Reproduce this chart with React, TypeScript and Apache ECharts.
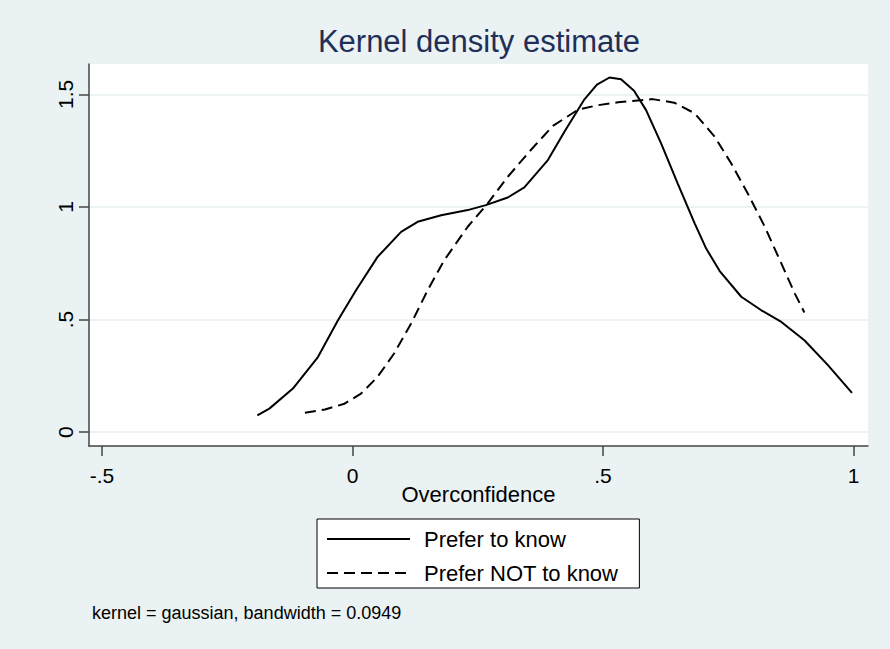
import React, { useEffect, useRef } from "react";
import * as echarts from "echarts";

const seriesNames = ["Prefer to know", "Prefer NOT to know"];

const preferToKnow: [number, number][] = [
  [-0.19, 0.074], [-0.166, 0.104], [-0.119, 0.193], [-0.069, 0.333],
  [-0.029, 0.497], [0.007, 0.63], [0.05, 0.778], [0.097, 0.889],
  [0.13, 0.934], [0.177, 0.963], [0.23, 0.986], [0.266, 1.008],
  [0.31, 1.042], [0.343, 1.087], [0.39, 1.208], [0.423, 1.334],
  [0.463, 1.478], [0.488, 1.543], [0.513, 1.575], [0.536, 1.567],
  [0.562, 1.516], [0.586, 1.43], [0.616, 1.282], [0.649, 1.105],
  [0.683, 0.927], [0.706, 0.815], [0.733, 0.715], [0.776, 0.601],
  [0.816, 0.541], [0.856, 0.489], [0.902, 0.408], [0.949, 0.297],
  [0.997, 0.174],
];

const preferNotToKnow: [number, number][] = [
  [-0.095, 0.086], [-0.055, 0.1], [-0.016, 0.126], [0.017, 0.171],
  [0.05, 0.245], [0.083, 0.349], [0.117, 0.482], [0.15, 0.63],
  [0.183, 0.763], [0.23, 0.912], [0.27, 1.016], [0.31, 1.134],
  [0.356, 1.253], [0.4, 1.36], [0.45, 1.432], [0.49, 1.452],
  [0.53, 1.465], [0.599, 1.479], [0.642, 1.463], [0.683, 1.416],
  [0.723, 1.312], [0.756, 1.193], [0.789, 1.06], [0.823, 0.912],
  [0.856, 0.749], [0.883, 0.615], [0.902, 0.531],
];

const xTicks = [-0.5, 0, 0.5, 1];
const yTicks = [0, 0.5, 1, 1.5];

const titleText = "Kernel density estimate";
const xAxisTitle = "Overconfidence";
const noteText = "kernel = gaussian, bandwidth = 0.0949";

const FONT = '"Liberation Sans", Arial, Helvetica, sans-serif';

const fmt = (v: number) => {
  const s = String(Math.round(v * 1000) / 1000);
  return s.replace(/^(-?)0\./, "$1.");
};

export default function App() {
  const ref = useRef<HTMLDivElement>(null);
  useEffect(() => {
    if (!ref.current) return;
    const chart = echarts.init(ref.current, undefined, { renderer: "svg" });
    const axisColor = "#444";
    chart.setOption({
      animation: false,
      backgroundColor: "#eaf2f3",
      textStyle: { fontFamily: FONT },
      title: {
        text: titleText,
        left: 479,
        top: 26,
        textAlign: "center",
        padding: 0,
        textStyle: { fontFamily: FONT, fontSize: 31, fontWeight: "normal", color: "#1f2f58" },
      },
      grid: {
        left: 89,
        top: 64,
        width: 779,
        height: 382,
        show: true,
        backgroundColor: "#ffffff",
        borderWidth: 0,
        containLabel: false,
      },
      legend: {
        orient: "vertical",
        left: 317,
        top: 519,
        data: seriesNames,
        backgroundColor: "#ffffff",
        borderColor: "#000",
        borderWidth: 1,
        borderRadius: 0,
        padding: [9, 21, 4, 9],
        itemWidth: 83,
        itemHeight: 24,
        itemGap: 12,
        selectedMode: false,
        itemStyle: { color: "rgba(0,0,0,0)", borderWidth: 0, opacity: 0 },
        textStyle: { fontFamily: FONT, fontSize: 22, color: "#000", padding: [0, 0, 0, 9] },
      },
      xAxis: {
        type: "value",
        min: -0.526,
        max: 1.029,
        name: xAxisTitle,
        nameLocation: "middle",
        nameGap: 37,
        nameMoveOverlap: false,
        nameTextStyle: { fontFamily: FONT, fontSize: 22, color: "#000" },
        axisLine: { show: true, onZero: false, lineStyle: { color: axisColor, width: 1.5 } },
        axisTick: { show: true, length: 10, customValues: xTicks, lineStyle: { color: axisColor, width: 1.5 } },
        axisLabel: { customValues: xTicks, formatter: (v: number) => fmt(v), fontFamily: FONT, fontSize: 21, color: "#000", margin: 19 },
        splitLine: { show: false },
      },
      yAxis: {
        type: "value",
        min: -0.062,
        max: 1.635,
        axisLine: { show: true, onZero: false, lineStyle: { color: axisColor, width: 1.5 } },
        axisTick: { show: true, length: 10, customValues: yTicks, lineStyle: { color: axisColor, width: 1.5 } },
        axisLabel: { customValues: yTicks, rotate: 90, formatter: (v: number) => fmt(v), fontFamily: FONT, fontSize: 21, color: "#000", margin: 13 },
        splitLine: { show: true, lineStyle: { color: "#e6eff1", width: 1.5 } },
      },
      graphic: [
        {
          type: "text",
          left: 92,
          top: 604,
          style: { text: noteText, font: `18px ${FONT}`, fill: "#000" },
        },
      ],
      series: [
        {
          name: seriesNames[0],
          type: "line",
          data: preferToKnow,
          symbol: "none",
          smooth: false,
          lineStyle: { color: "#000", width: 2, type: "solid" },
          itemStyle: { color: "#000" },
        },
        {
          name: seriesNames[1],
          type: "line",
          data: preferNotToKnow,
          symbol: "none",
          smooth: false,
          lineStyle: { color: "#000", width: 2, type: [11, 6] },
          itemStyle: { color: "#000" },
        },
      ],
    });
    return () => chart.dispose();
  }, []);
  return (
    <div
      ref={ref}
      style={{ position: "fixed", left: 0, top: 0, width: 890, height: 649 }}
    />
  );
}
